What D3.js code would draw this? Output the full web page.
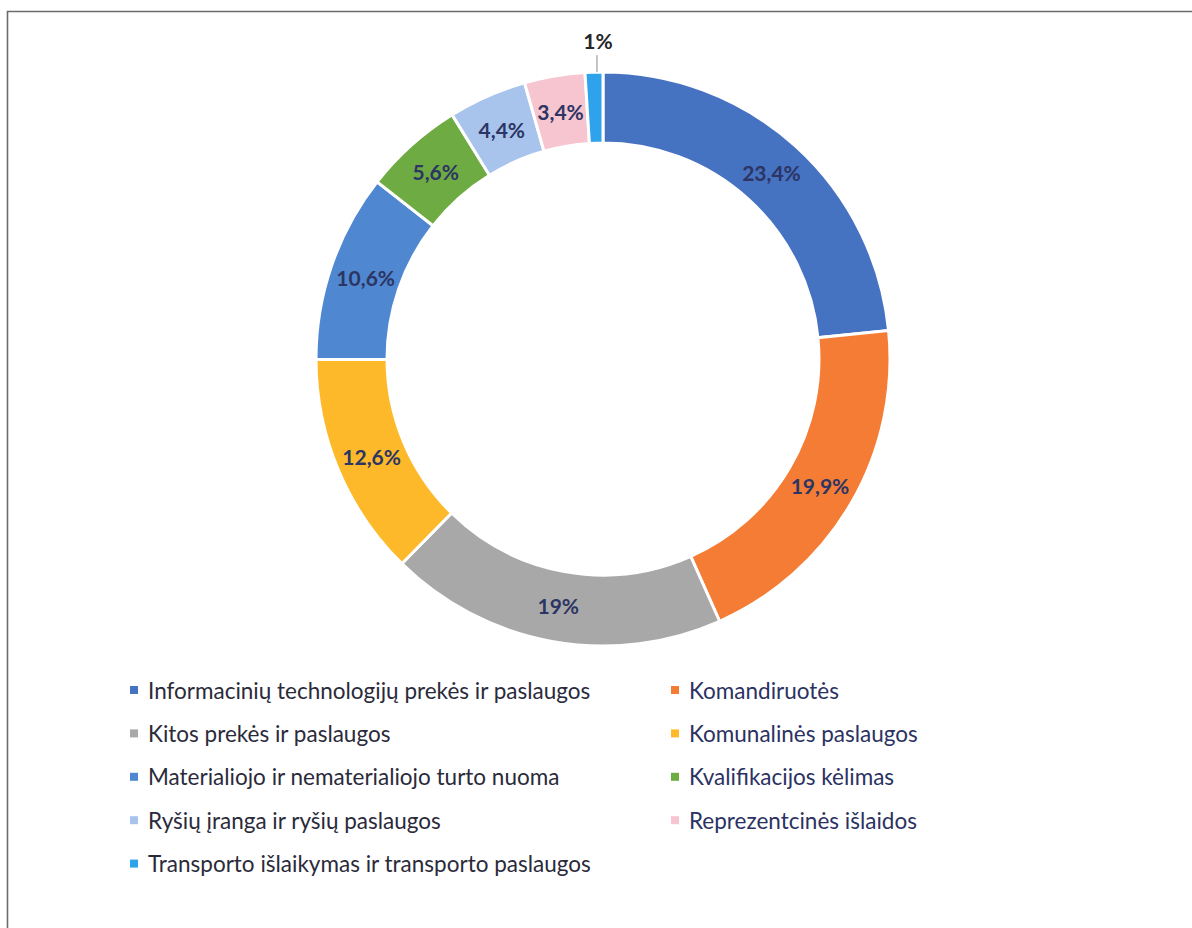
<!DOCTYPE html>
<html><head><meta charset="utf-8">
<script src="https://cdn.jsdelivr.net/npm/d3@7/dist/d3.min.js"></script>
<style>html,body{margin:0;padding:0;background:#fff;}svg{display:block;}</style>
</head><body>
<svg id="chart" width="1192" height="928"></svg>
<script>
const categories = [
  "Informacinių technologijų prekės ir paslaugos",
  "Komandiruotės",
  "Kitos prekės ir paslaugos",
  "Komunalinės paslaugos",
  "Materialiojo ir nematerialiojo turto nuoma",
  "Kvalifikacijos kėlimas",
  "Ryšių įranga ir ryšių paslaugos",
  "Reprezentcinės išlaidos",
  "Transporto išlaikymas ir transporto paslaugos"
];
const values = [23.4, 19.9, 19, 12.6, 10.6, 5.6, 4.4, 3.4, 1];
const labels = ["23,4%", "19,9%", "19%", "12,6%", "10,6%", "5,6%", "4,4%", "3,4%", "1%"];
const colors = ["#4672C2", "#F47C34", "#A8A8A8", "#FDB92A", "#4F88D0", "#6EAB42", "#A8C4EC", "#F6C5CF", "#2FA2EC"];

const svg = d3.select("#chart");
// frame
svg.append("path").attr("d", "M7.5,928 L7.5,11.5 L1192,11.5")
  .attr("fill", "none").attr("stroke", "#6b6b6b").attr("stroke-width", 1.6);

const cx = 603, cy = 359, rOuter = 287, rInner = 216;
const g = svg.append("g").attr("transform", `translate(${cx},${cy})`);
const data = categories.map((c, i) => ({name: c, value: values[i], label: labels[i], color: colors[i]}));
const pie = d3.pie().sort(null).value(d => d.value);
const arc = d3.arc().innerRadius(rInner).outerRadius(rOuter);
const labelArc = d3.arc().innerRadius(251).outerRadius(251);
const arcs = pie(data);

g.selectAll("path.slice").data(arcs).join("path")
  .attr("class", "slice")
  .attr("d", arc)
  .attr("fill", d => d.data.color)
  .attr("stroke", "#fff").attr("stroke-width", 3);

const fontFam = "Lato, 'Open Sans', sans-serif";
arcs.forEach((d, i) => {
  if (i === arcs.length - 1) {
    const mid = (d.startAngle + d.endAngle) / 2;
    const x0 = Math.sin(mid) * rOuter, y0 = -Math.cos(mid) * rOuter;
    g.append("line").attr("x1", x0 + 3).attr("y1", y0).attr("x2", x0 + 3).attr("y2", y0 - 17)
      .attr("stroke", "#8a8a8a").attr("stroke-width", 1);
    g.append("text").attr("x", x0 + 4).attr("y", y0 - 23)
      .attr("text-anchor", "middle")
      .attr("font-family", fontFam).attr("font-weight", "bold").attr("font-size", 21)
      .attr("fill", "#262626").text(d.data.label);
  } else {
    const [lx, ly] = labelArc.centroid(d);
    g.append("text").attr("x", lx).attr("y", ly)
      .attr("text-anchor", "middle").attr("dominant-baseline", "central")
      .attr("font-family", fontFam).attr("font-weight", "bold").attr("font-size", 21)
      .attr("fill", "#2C3563").text(d.data.label);
  }
});

// legend
const legCols = [134, 675];
const legY0 = 690, legDy = 43.4;
const leg = svg.append("g");
data.forEach((d, i) => {
  const col = i % 2, row = Math.floor(i / 2);
  const x = legCols[col], y = legY0 + row * legDy;
  leg.append("rect").attr("x", x - 4).attr("y", y - 4).attr("width", 8).attr("height", 8).attr("fill", d.color);
  leg.append("text").attr("x", x + 14).attr("y", y)
    .attr("dominant-baseline", "central")
    .attr("font-family", fontFam).attr("font-size", 22.5)
    .attr("fill", col === 0 ? "#2a2a3a" : "#2B3262").text(d.name);
});
</script>
</body></html>
